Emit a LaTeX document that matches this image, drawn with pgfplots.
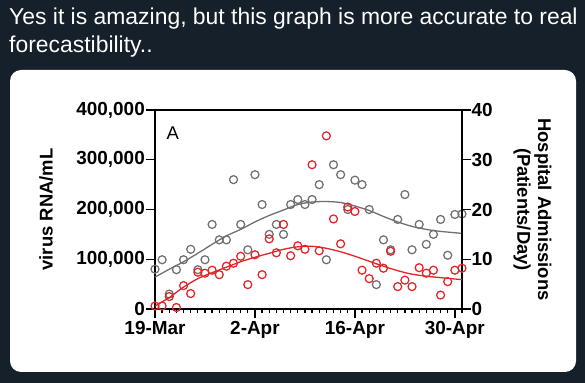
\documentclass[border=0pt]{standalone}
\usepackage{fontspec}
\setmainfont{Liberation Sans}
\usepackage{pgfplots}
\usepackage{pgfplotstable}
\pgfplotsset{compat=1.18}
\definecolor{twbg}{RGB}{21,32,43}
\definecolor{ptgray}{RGB}{112,112,112}
\definecolor{ptred}{RGB}{226,36,40}

\pgfplotstableread{
day rna
0 80000
1 99000
2 30000
3 79000
4 99000
5 120000
6 79000
7 99000
8 170000
9 139000
10 139000
11 260000
12 170000
13 119000
14 270000
15 210000
16 150000
17 170000
18 150000
19 210000
20 220000
21 210000
22 220000
23 250000
24 99000
25 290000
26 270000
27 200000
28 259000
29 250000
30 200000
31 49000
32 139000
33 119000
34 180000
35 230000
36 119000
37 170000
38 130000
39 150000
40 180000
41 108000
42 190000
43 191000
}\rnatable

\pgfplotstableread{
day fit
0 64000
2 80000
4 95000
6 112000
8 130000
10 147000
12 160000
14 175000
16 188000
18 199000
20 210000
22 215000
24 216000
26 214000
28 207000
30 198000
32 186000
34 175000
36 166000
38 160000
40 156000
43 152000
}\rnafit

\pgfplotstableread{
day adm
0 0.6
1 0.6
2 2.5
3 0.3
4 4.7
5 3.1
6 7.4
7 7.2
8 7.8
9 6.9
10 8.6
11 9.2
12 10.6
13 4.9
14 10.9
15 6.9
16 14.1
17 11.3
18 17.0
19 10.7
20 12.7
21 12.0
22 29.0
23 11.7
24 34.8
25 18.1
26 13.1
27 20.5
28 19.6
29 7.8
30 6.1
31 9.2
32 8.2
33 11.6
34 4.5
35 5.8
36 4.5
37 8.3
38 7.2
39 7.8
40 2.8
41 5.5
42 7.8
43 8.2
}\admtable

\pgfplotstableread{
day fit
0 0.6
2 2.3
4 4.4
6 6.1
8 7.3
10 8.4
12 9.5
14 10.4
16 11.2
18 12.0
20 12.5
22 12.6
24 12.2
26 11.5
28 10.6
30 9.6
32 8.6
34 7.7
36 7.0
38 6.6
40 6.3
43 5.9
}\admfit

\pgfplotsset{
  myaxis/.style={
    at={(155bp,74bp)}, anchor=south west, scale only axis,
    width=307bp, height=199bp,
    xmin=0, xmax=43,
    clip=false,
    axis line style={line width=1.6bp, black},
    every tick/.style={line width=1.3bp, black},
    tick align=outside,
    major tick length=9bp, minor tick length=4.5bp,
    ticklabel style={font=\fontsize{19}{20}\selectfont\bfseries},
    /pgf/number format/assume math mode=true,
  }
}

\begin{document}
\begin{tikzpicture}
\fill[twbg] (0bp,0bp) rectangle (585bp,383bp);
\node[anchor=base west, text=white, font=\fontsize{23}{27}\selectfont, inner sep=0pt] at (9bp,358bp) {Yes it is amazing, but this graph is more accurate to real};
\node[anchor=base west, text=white, font=\fontsize{23}{27}\selectfont, inner sep=0pt] at (9bp,330bp) {forecastibility..};
\fill[white, rounded corners=11bp] (10bp,11bp) rectangle (576bp,313bp);

\begin{axis}[myaxis,
  ymin=0, ymax=400000,
  xtick={0,14,28,42}, xticklabels={19-Mar,2-Apr,16-Apr,30-Apr},
  minor xtick={0,...,43},
  xtick pos=bottom, ytick pos=left,
  ytick={0,100000,200000,300000,400000},
  scaled y ticks=false,
  /pgf/number format/fixed,
  /pgf/number format/1000 sep={,},
  yticklabel style={inner sep=1bp},
  ylabel={virus RNA/mL},
  ylabel style={at={(axis description cs:-0.355,0.5)}, anchor=center, font=\fontsize{18.5}{20}\selectfont\bfseries},
]
\addplot[only marks, mark=o, mark size=4pt, ptgray, mark options={line width=1.25bp}] table[x=day,y=rna]{\rnatable};
\addplot[ptgray, line width=1.3bp, smooth, no marks] table[x=day,y=fit]{\rnafit};
\node[font=\fontsize{18.5}{20}\selectfont, anchor=center] at (axis description cs:0.0577,0.883) {A};
\end{axis}

\begin{axis}[myaxis,
  ymin=0, ymax=40,
  axis x line=none, axis y line*=right,
  ytick={0,10,20,30,40},
  yticklabel style={inner sep=0.5bp},
  ylabel={Hospital Admissions\\(Patients/Day)},
  ylabel style={at={(axis description cs:1.2296,0.5)}, anchor=center, rotate=180, align=center, font=\fontsize{18.5}{21}\selectfont\bfseries},
]
\addplot[only marks, mark=o, mark size=4pt, ptred, mark options={line width=1.25bp}] table[x=day,y=adm]{\admtable};
\addplot[ptred, line width=1.3bp, smooth, no marks] table[x=day,y=fit]{\admfit};
\end{axis}

\pgfresetboundingbox
\path[use as bounding box] (0bp,0bp) rectangle (585bp,383bp);
\end{tikzpicture}
\end{document}
